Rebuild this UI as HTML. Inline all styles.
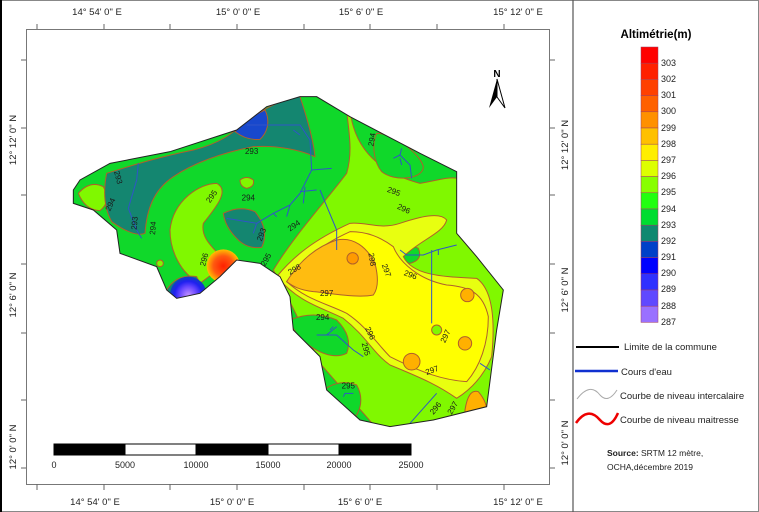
<!DOCTYPE html>
<html><head><meta charset="utf-8"><style>
html,body{margin:0;padding:0;background:#fff;}
svg{display:block;font-family:"Liberation Sans",sans-serif;}
</style></head><body>
<svg width="759" height="512" viewBox="0 0 759 512" xmlns="http://www.w3.org/2000/svg">
<defs>
<clipPath id="cl"><path d="M40,300 L60,270 150,220 330,185 530,120 620,50 720,20 770,20 870,80 1080,190 1190,245 1190,430 1250,500 1330,600 1310,720 1280,950 1120,990 990,1010 900,990 800,900 780,800 700,720 690,620 660,560 600,520 530,510 480,560 420,610 350,625 320,600 290,530 180,490 170,420 100,360 40,340Z"/></clipPath>
<radialGradient id="rg"><stop offset="0" stop-color="#ff2000"/><stop offset="0.6" stop-color="#ff5a10"/><stop offset="1" stop-color="#ffc000"/></radialGradient>
<radialGradient id="pg"><stop offset="0" stop-color="#c090ff"/><stop offset="0.45" stop-color="#6a48ff"/><stop offset="0.75" stop-color="#2020f0"/><stop offset="1" stop-color="#1040c0"/></radialGradient>
</defs>
<rect x="0" y="0" width="759" height="512" fill="#fff"/>
<rect x="0.5" y="0.5" width="758" height="511" fill="none" stroke="#888"/>
<line x1="1" y1="0" x2="1" y2="512" stroke="#000" stroke-width="2"/>
<line x1="573" y1="0" x2="573" y2="512" stroke="#555" stroke-width="1.2"/>
<rect x="26.5" y="29.5" width="523" height="455" fill="none" stroke="#777"/>
<g stroke="#666" stroke-width="1">
<line x1="37" y1="24" x2="37" y2="29"/><line x1="104" y1="24" x2="104" y2="29"/><line x1="170" y1="24" x2="170" y2="29"/><line x1="237" y1="24" x2="237" y2="29"/><line x1="304" y1="24" x2="304" y2="29"/><line x1="370" y1="24" x2="370" y2="29"/><line x1="437" y1="24" x2="437" y2="29"/><line x1="504" y1="24" x2="504" y2="29"/>
<line x1="37" y1="484" x2="37" y2="490"/><line x1="104" y1="484" x2="104" y2="490"/><line x1="170" y1="484" x2="170" y2="490"/><line x1="237" y1="484" x2="237" y2="490"/><line x1="304" y1="484" x2="304" y2="490"/><line x1="370" y1="484" x2="370" y2="490"/><line x1="437" y1="484" x2="437" y2="490"/><line x1="504" y1="484" x2="504" y2="490"/>
<line x1="21" y1="60" x2="26" y2="60"/><line x1="21" y1="128" x2="26" y2="128"/><line x1="21" y1="195" x2="26" y2="195"/><line x1="21" y1="264" x2="26" y2="264"/><line x1="21" y1="333" x2="26" y2="333"/><line x1="21" y1="400" x2="26" y2="400"/><line x1="21" y1="468" x2="26" y2="468"/>
<line x1="550" y1="60" x2="555" y2="60"/><line x1="550" y1="128" x2="555" y2="128"/><line x1="550" y1="195" x2="555" y2="195"/><line x1="550" y1="264" x2="555" y2="264"/><line x1="550" y1="333" x2="555" y2="333"/><line x1="550" y1="400" x2="555" y2="400"/><line x1="550" y1="468" x2="555" y2="468"/>
</g>
<g font-size="9.5" fill="#222" text-anchor="middle">
<text x="97" y="15">14° 54' 0" E</text><text x="238" y="15">15° 0' 0" E</text><text x="361" y="15">15° 6' 0" E</text><text x="518" y="15">15° 12' 0" E</text>
<text x="95" y="505">14° 54' 0" E</text><text x="232" y="505">15° 0' 0" E</text><text x="360" y="505">15° 6' 0" E</text><text x="518" y="505">15° 12' 0" E</text>
<text transform="translate(16,140) rotate(-90)">12° 12' 0" N</text>
<text transform="translate(16,295) rotate(-90)">12° 6' 0" N</text>
<text transform="translate(16,447) rotate(-90)">12° 0' 0" N</text>
<text transform="translate(568,145) rotate(-90)">12° 12' 0" N</text>
<text transform="translate(568,290) rotate(-90)">12° 6' 0" N</text>
<text transform="translate(568,443) rotate(-90)">12° 0' 0" N</text>
</g>
<g transform="translate(60,90) scale(0.33333)">
<g clip-path="url(#cl)">
<rect x="0" y="0" width="1400" height="1100" fill="#10d82a"/>
<g stroke="#b0602a" stroke-width="1">
<path vector-effect="non-scaling-stroke" fill="#80f800" d="M870,60 C880,150 930,240 1080,280 C1150,270 1200,240 1250,300 L1400,600 1300,1050 980,1050 780,820 C730,720 700,650 640,540 C700,440 800,330 860,250 C880,180 865,120 860,60Z"/>
<path vector-effect="non-scaling-stroke" fill="#10d82a" d="M950,130 C1000,130 1080,190 1090,230 C1090,270 1000,275 965,245 C940,215 935,160 950,130Z"/>
<path vector-effect="non-scaling-stroke" fill="#10d82a" d="M1010,480 Q1040,455 1075,475 Q1090,510 1050,520 Q1015,515 1010,480Z"/>
<path vector-effect="non-scaling-stroke" fill="#10d82a" d="M690,690 Q760,660 830,690 Q880,740 860,790 Q820,810 760,775 Q700,735 690,690Z"/>
<path vector-effect="non-scaling-stroke" fill="#10d82a" d="M790,900 Q840,865 890,885 Q915,930 890,975 Q830,995 790,960Z"/>
<path vector-effect="non-scaling-stroke" fill="#80f800" d="M330,420 C340,330 420,280 470,280 C510,300 470,350 430,400 C420,450 470,480 500,520 L420,580 C360,550 330,480 330,420Z"/>
<path vector-effect="non-scaling-stroke" fill="#80f800" d="M55,310 Q90,270 130,290 Q155,335 120,362 Q75,360 55,310Z"/>
<path vector-effect="non-scaling-stroke" fill="#80f800" d="M540,270 Q560,255 580,270 Q585,290 560,295 Q540,290 540,270Z"/>
<path vector-effect="non-scaling-stroke" fill="#148670" d="M140,250 C220,225 300,200 400,180 C480,160 520,130 560,90 C620,50 690,20 720,20 C740,80 760,150 765,200 C720,180 650,165 580,170 C480,190 400,220 340,260 C280,300 260,360 255,430 C230,440 190,420 155,395 C130,350 130,300 140,250Z"/>
<path vector-effect="non-scaling-stroke" fill="#148670" d="M490,370 Q540,345 585,365 Q630,420 605,472 Q560,478 530,445 Q495,410 490,370Z"/>
<path vector-effect="non-scaling-stroke" fill="#1848cc" d="M525,125 C560,90 590,70 615,60 C630,90 625,125 600,148 Q560,152 525,125Z"/>
<path vector-effect="non-scaling-stroke" fill="#e8ff10" d="M650,560 C700,500 760,450 870,400 C920,395 960,420 1020,400 C1080,380 1140,365 1160,390 C1150,430 1080,450 1030,500 C1060,560 1160,560 1250,565 C1300,600 1305,700 1295,800 C1270,860 1230,900 1190,925 C1140,890 1100,870 990,825 C940,790 920,740 850,685 C780,650 720,640 650,560Z"/>
<path vector-effect="non-scaling-stroke" fill="#ffff00" d="M680,575 C720,520 770,470 870,425 C920,425 960,440 1000,470 C1020,520 1080,570 1160,585 C1230,590 1270,610 1285,680 C1285,760 1260,830 1220,875 C1150,870 1090,850 990,800 C950,760 920,710 860,670 C800,640 740,630 680,575Z"/>
<path vector-effect="non-scaling-stroke" fill="#ffbc10" d="M680,575 C720,510 770,470 830,450 C880,440 920,470 945,520 C955,560 955,595 940,615 C890,625 820,610 760,605 C720,600 700,590 680,575Z"/>
<circle vector-effect="non-scaling-stroke" cx="1222" cy="615" r="20" fill="#ffb000"/>
<circle vector-effect="non-scaling-stroke" cx="1215" cy="760" r="20" fill="#ffb000"/>
<circle vector-effect="non-scaling-stroke" cx="1055" cy="815" r="25" fill="#ffb000"/>
<path vector-effect="non-scaling-stroke" fill="#ffb000" d="M1215,960 Q1225,895 1255,905 Q1285,940 1280,975 L1215,975Z"/>
<circle vector-effect="non-scaling-stroke" cx="878" cy="505" r="17" fill="#ff9a00"/>
<circle vector-effect="non-scaling-stroke" cx="1130" cy="720" r="15" fill="#80f800"/>
<circle vector-effect="non-scaling-stroke" cx="300" cy="520" r="10" fill="#80f800"/>
<path vector-effect="non-scaling-stroke" fill="#148670" d="M320,600 Q350,550 410,560 L440,620 L330,640Z"/>
</g>
<circle cx="490" cy="528" r="50" fill="url(#rg)"/>
<circle cx="385" cy="615" r="55" fill="url(#pg)"/>
<g fill="none" stroke="#2f55c8" stroke-width="1">
<path vector-effect="non-scaling-stroke" d="M560,105 L720,105 750,150 755,240 730,290 720,310 690,345 640,370 590,400 500,385"/>
<path vector-effect="non-scaling-stroke" d="M755,240 L815,235 M735,290 L730,340 M720,305 L770,300 M780,300 L830,420 830,480 M690,345 L680,380 M640,370 L650,380 M590,400 L580,430 M700,120 L720,135"/>
<path vector-effect="non-scaling-stroke" d="M235,220 L230,270 205,355 230,420 245,445"/>
<path vector-effect="non-scaling-stroke" d="M1000,205 L1020,195 1025,175 M1020,195 L1050,225 1055,265 M1020,205 L1025,225"/>
<path vector-effect="non-scaling-stroke" d="M1020,480 L1040,495 1090,495 1130,480 1190,465 M1115,480 L1115,545 1115,700 M1135,480 L1135,495"/>
<path vector-effect="non-scaling-stroke" d="M770,735 L830,735 M800,735 L830,710 M830,735 L880,780 910,800 M810,720 L820,710"/>
<path vector-effect="non-scaling-stroke" d="M1050,1000 L1130,910 M1260,820 L1290,840 M850,920 L855,910 880,910"/>
</g>
</g>
<path d="M40,300 L60,270 150,220 330,185 530,120 620,50 720,20 770,20 870,80 1080,190 1190,245 1190,430 1250,500 1330,600 1310,720 1280,950 1120,990 990,1010 900,990 800,900 780,800 700,720 690,620 660,560 600,520 530,510 480,560 420,610 350,625 320,600 290,530 180,490 170,420 100,360 40,340Z" fill="none" stroke="#222" stroke-width="1" vector-effect="non-scaling-stroke"/>
<g font-size="24" fill="#1a1a1a">
<text x="555" y="192">293</text><text x="545" y="332">294</text><text x="980" y="305" transform="rotate(20 980 305)">295</text>
<text x="1010" y="355" transform="rotate(25 1010 355)">296</text><text x="780" y="618">297</text>
<text x="1030" y="555" transform="rotate(20 1030 555)">296</text><text x="768" y="690">294</text>
<text x="845" y="895">295</text><text x="1100" y="855" transform="rotate(-20 1100 855)">297</text>
<text x="690" y="425" transform="rotate(-35 690 425)">294</text><text x="605" y="455" transform="rotate(-70 605 455)">293</text>
<text x="450" y="340" transform="rotate(-55 450 340)">295</text><text x="690" y="555" transform="rotate(-30 690 555)">298</text>
<text x="940" y="170" transform="rotate(-80 940 170)">294</text><text x="925" y="490" transform="rotate(80 925 490)">298</text>
<text x="965" y="525" transform="rotate(70 965 525)">297</text><text x="915" y="715" transform="rotate(65 915 715)">296</text>
<text x="905" y="760" transform="rotate(75 905 760)">295</text><text x="1155" y="760" transform="rotate(-65 1155 760)">297</text>
<text x="1120" y="975" transform="rotate(-50 1120 975)">296</text><text x="1175" y="975" transform="rotate(-60 1175 975)">297</text>
<text x="285" y="435" transform="rotate(-85 285 435)">294</text><text x="230" y="420" transform="rotate(-85 230 420)">293</text>
<text x="150" y="365" transform="rotate(-65 150 365)">294</text><text x="162" y="245" transform="rotate(75 162 245)">293</text>
<text x="615" y="530" transform="rotate(-60 615 530)">295</text><text x="435" y="530" transform="rotate(-75 435 530)">296</text>
</g>
</g>
<text x="497" y="77" font-size="10" font-weight="bold" text-anchor="middle">N</text>
<path d="M497,79 L489,108 L497,97Z" fill="#000"/>
<path d="M497,79 L505,108 L497,97Z" fill="#fff" stroke="#000" stroke-width="1"/>
<g stroke="#000" stroke-width="1">
<rect x="54" y="444" width="71" height="11" fill="#000"/><rect x="125" y="444" width="71" height="11" fill="#fff"/>
<rect x="196" y="444" width="72" height="11" fill="#000"/><rect x="268" y="444" width="71" height="11" fill="#fff"/>
<rect x="339" y="444" width="72" height="11" fill="#000"/>
</g>
<g font-size="9" fill="#222" text-anchor="middle">
<text x="54" y="468">0</text><text x="125" y="468">5000</text><text x="196" y="468">10000</text><text x="268" y="468">15000</text><text x="339" y="468">20000</text><text x="411" y="468">25000</text>
</g>
<text x="656" y="38" font-size="11.5" font-weight="bold" text-anchor="middle">Altimétrie(m)</text>
<g stroke="#a04060" stroke-width="0.5">
<rect x="641" y="47" width="17" height="16.2" fill="#ff0000"/>
<rect x="641" y="63.2" width="17" height="16.2" fill="#ff2000"/>
<rect x="641" y="79.4" width="17" height="16.2" fill="#ff4000"/>
<rect x="641" y="95.6" width="17" height="16.2" fill="#ff6000"/>
<rect x="641" y="111.8" width="17" height="16.2" fill="#ff9000"/>
<rect x="641" y="128" width="17" height="16.2" fill="#ffc000"/>
<rect x="641" y="144.2" width="17" height="16.2" fill="#ffee00"/>
<rect x="641" y="160.4" width="17" height="16.2" fill="#ddff00"/>
<rect x="641" y="176.6" width="17" height="16.2" fill="#88ff00"/>
<rect x="641" y="192.8" width="17" height="16.2" fill="#22ff10"/>
<rect x="641" y="209" width="17" height="16.2" fill="#00dd30"/>
<rect x="641" y="225.2" width="17" height="16.2" fill="#108870"/>
<rect x="641" y="241.4" width="17" height="16.2" fill="#0040c8"/>
<rect x="641" y="257.6" width="17" height="16.2" fill="#0000ff"/>
<rect x="641" y="273.8" width="17" height="16.2" fill="#3030ff"/>
<rect x="641" y="290" width="17" height="16.2" fill="#6048ff"/>
<rect x="641" y="306.2" width="17" height="16.2" fill="#9a70ff"/>
</g>
<g font-size="9" fill="#222">
<text x="661" y="66">303</text><text x="661" y="82">302</text><text x="661" y="98">301</text><text x="661" y="114">300</text><text x="661" y="131">299</text><text x="661" y="147">298</text><text x="661" y="163">297</text><text x="661" y="179">296</text><text x="661" y="195">295</text><text x="661" y="212">294</text><text x="661" y="228">293</text><text x="661" y="244">292</text><text x="661" y="260">291</text><text x="661" y="276">290</text><text x="661" y="292">289</text><text x="661" y="309">288</text><text x="661" y="325">287</text>
</g>
<line x1="576" y1="347" x2="619" y2="347" stroke="#000" stroke-width="2"/>
<line x1="575" y1="371" x2="618" y2="371" stroke="#1030d0" stroke-width="2.5"/>
<path d="M577,399 Q590,382 600,395 Q608,404 617,390" fill="none" stroke="#aaa" stroke-width="1"/>
<path d="M576,423 Q588,406 600,420 Q610,431 618,413" fill="none" stroke="#e00" stroke-width="2.5"/>
<g font-size="9.5" fill="#222">
<text x="624" y="350">Limite de la commune</text>
<text x="621" y="375">Cours d'eau</text>
<text x="620" y="399">Courbe de niveau intercalaire</text>
<text x="620" y="423">Courbe de niveau maitresse</text>
<text x="607" y="456" font-size="8.5"><tspan font-weight="bold">Source:</tspan> SRTM 12 mètre,</text>
<text x="607" y="470" font-size="8.5">OCHA,décembre 2019</text>
</g>
</svg>
</body></html>
